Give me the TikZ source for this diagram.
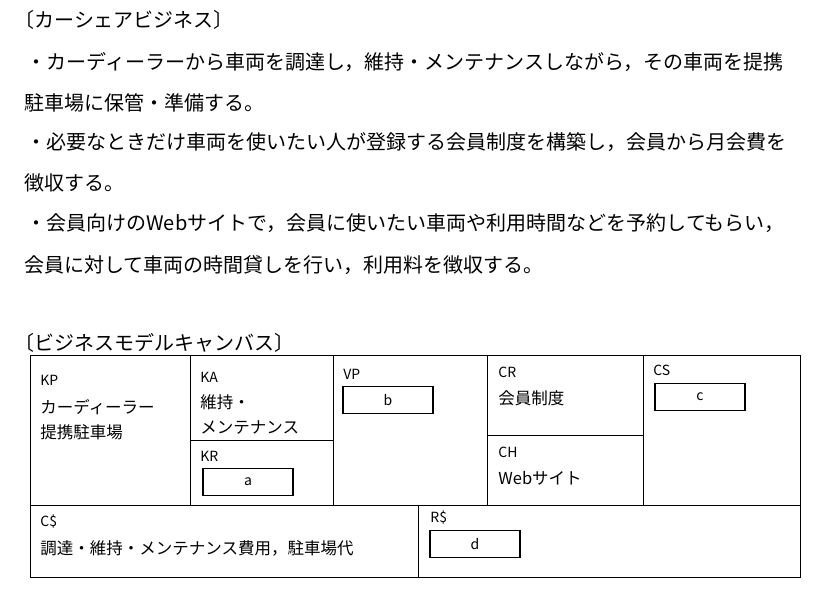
\documentclass[tikz,border=0pt]{standalone}
\usepackage{fontspec}
\setmainfont{Noto Sans CJK JP}
\usetikzlibrary{positioning}
\tikzstyle{line} = [anchor=west, inner sep=0pt, font=\fontsize{20}{20}\selectfont]
\tikzstyle{cell} = [anchor=west, inner sep=0pt, font=\fontsize{16.5}{16.5}\selectfont]
\tikzstyle{tag} = [anchor=west, inner sep=0pt, font=\fontsize{14}{14}\selectfont]
\tikzstyle{blank} = [rectangle, draw, line width=1.6pt, minimum width=90pt, minimum height=27pt, font=\fontsize{14}{14}\selectfont]

\begin{document}
\begin{tikzpicture}[x=1pt, y=-1pt, thick]
        \useasboundingbox (0,0) rectangle (817,594);

          % text part
          \node [line] (T0) at (14,20) {〔カーシェアビジネス〕};
          \node [line] (T1) at (26,62) {・カーディーラーから車両を調達し，維持・メンテナンスしながら，その車両を提携};
          \node [line] (T2) at (24,103) {駐車場に保管・準備する。};
          \node [line] (T3) at (26,142) {・必要なときだけ車両を使いたい人が登録する会員制度を構築し，会員から月会費を};
          \node [line] (T4) at (24,183) {徴収する。};
          \node [line] (T5) at (26,223) {・会員向けのWebサイトで，会員に使いたい車両や利用時間などを予約してもらい，};
          \node [line] (T6) at (24,265) {会員に対して車両の時間貸しを行い，利用料を徴収する。};
          \node [line] (T7) at (14,343) {〔ビジネスモデルキャンバス〕};

          % canvas grid
          \draw (30,355) rectangle (800,577);
          \draw (30,505) -- (800,505);
          \draw (190,355) -- (190,505);
          \draw (333,355) -- (333,505);
          \draw (487,355) -- (487,505);
          \draw (643,355) -- (643,505);
          \draw (190,440) -- (333,440);
          \draw (487,435) -- (643,435);
          \draw (418,505) -- (418,577);

          % cells
          \node [tag] (KP) at (40,380) {KP};
          \node [cell] (KP-1) at (40,407) {カーディーラー};
          \node [cell] (KP-2) at (40,432) {提携駐車場};
          \node [tag] (KA) at (200,377) {KA};
          \node [cell] (KA-1) at (200,402) {維持・};
          \node [cell] (KA-2) at (200,428) {メンテナンス};
          \node [tag] (KR) at (200,456) {KR};
          \node [blank] (a) at (248,482) {a};
          \node [tag] (VP) at (343,374) {VP};
          \node [blank] (b) at (388,400) {b};
          \node [tag] (CR) at (498,372) {CR};
          \node [cell] (CR-1) at (498,398) {会員制度};
          \node [tag] (CH) at (498,452) {CH};
          \node [cell] (CH-1) at (498,478) {Webサイト};
          \node [tag] (CS) at (653,370) {CS};
          \node [blank] (c) at (700,397) {c};
          \node [tag] (CC) at (40,522) {C\$};
          \node [cell] (CC-1) at (40,548) {調達・維持・メンテナンス費用，駐車場代};
          \node [tag] (RR) at (430,518) {R\$};
          \node [blank] (d) at (475,544) {d};
        \end{tikzpicture}
\end{document}
